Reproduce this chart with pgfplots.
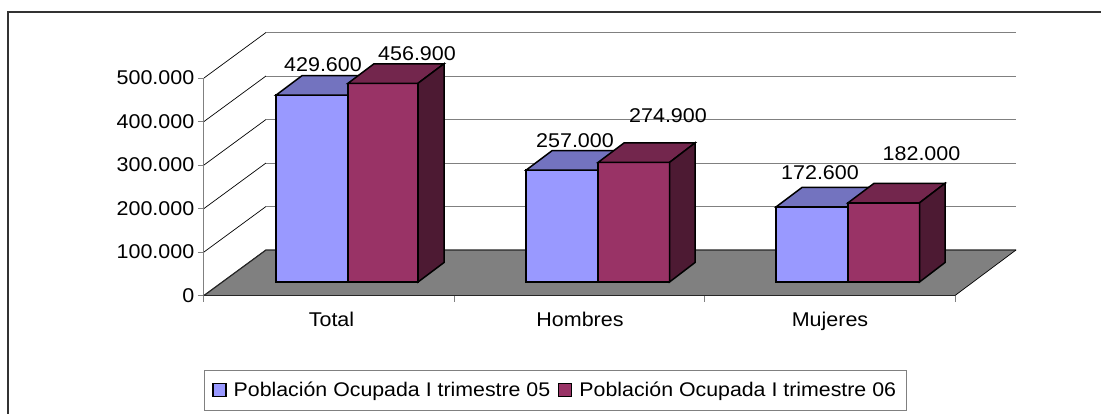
\documentclass[border=0pt]{standalone}
\usepackage{fontspec}
\setmainfont[FakeStretch=1.08]{Liberation Sans}
\usepackage{pgfplots}
\pgfplotsset{compat=1.18}
\definecolor{bf}{HTML}{9999FF}\definecolor{bt}{HTML}{7373BF}
\definecolor{rf}{HTML}{993366}\definecolor{rt}{HTML}{73264D}\definecolor{rs}{HTML}{4D1A33}
\definecolor{gridc}{HTML}{808080}\definecolor{floorc}{HTML}{808080}
\begin{document}
\begin{tikzpicture}[x=1pt,y=1pt]
\path[use as bounding box] (-204,-117.5) rectangle (897,295.5);
\begin{axis}[
  at={(0,0)},anchor=origin,
  scale only axis,width=751pt,height=217.5pt,
  xmin=204,xmax=955,ymin=0,ymax=500000,clip=false,
  axis x line=bottom,axis y line=left,
  axis line style={-,draw=gridc,line width=1pt},
  y axis line style={-},x axis line style={-},
  font=\fontsize{19.9}{22}\selectfont,
  xtick={331.5,580,830},
  xticklabels={Total,Hombres,Mujeres},
  major x tick style={draw=none},
  minor xtick={204,454.3,704.7,955},
  minor tick length=6pt,
  minor x tick style={draw=gridc,line width=1pt},
  ytick={0,100000,200000,300000,400000,500000},
  major tick length=6pt,
  y tick style={draw=gridc,line width=1pt},
  tick align=outside,
  scaled y ticks=false,
  /pgf/number format/.cd,fixed,1000 sep={.},assume math mode=true,
  /pgfplots/.cd,
  y tick label style={inner sep=1pt,xshift=-2.5pt},
  x tick label style={yshift=-7pt},
  legend columns=2,
  legend style={at={(0,-0.342)},anchor=north west,draw=gridc,line width=1pt,
    inner xsep=8pt,inner ysep=10pt,font=\fontsize{19.75}{22}\selectfont,
    /tikz/every odd column/.append style={column sep=5pt},
    /tikz/every even column/.append style={column sep=6pt}},
  legend cell align=left,
]
% walls
\pgfplotsinvokeforeach{0,100000,200000,300000,400000,500000}{
  \addplot[forget plot,mark=none,black,line width=0.7pt] coordinates {(204,#1) (266,{#1+104600})};
  \addplot[forget plot,mark=none,gridc,line width=1pt] coordinates {(266,{#1+104600}) (1016,{#1+104600})};
}
% floor
\addplot[forget plot,mark=none,fill=floorc,draw=none] coordinates {(204,0) (955,0) (1016,104600) (266,104600)} --cycle;
\addplot[forget plot,mark=none,black!85,line width=1.6pt] coordinates {(204,0) (955,0)};
\addplot[forget plot,mark=none,black!85,line width=1.2pt] coordinates {(204,0) (266,104600) (1016,104600)};
\addplot[forget plot,mark=none,black,line width=0.7pt] coordinates {(955,0) (1016,104600)};
% Total 429.600 / 456.900
\addplot[forget plot,mark=none,fill=bf,draw=black,line width=1.5pt] coordinates {(276,31000) (348,31000) (348,460600) (276,460600)} --cycle;
\addplot[forget plot,mark=none,fill=bt,draw=black,line width=1.5pt] coordinates {(276,460600) (348,460600) (374,505400) (302,505400)} --cycle;
\addplot[forget plot,mark=none,fill=rf,draw=black,line width=1.5pt] coordinates {(348,31000) (418,31000) (418,487900) (348,487900)} --cycle;
\addplot[forget plot,mark=none,fill=rt,draw=black,line width=1.5pt] coordinates {(348,487900) (418,487900) (444,532700) (374,532700)} --cycle;
\addplot[forget plot,mark=none,fill=rs,draw=black,line width=1.5pt] coordinates {(418,31000) (444,75800) (444,532700) (418,487900)} --cycle;
% Hombres 257.000 / 274.900
\addplot[forget plot,mark=none,fill=bf,draw=black,line width=1.5pt] coordinates {(526,31000) (598,31000) (598,288000) (526,288000)} --cycle;
\addplot[forget plot,mark=none,fill=bt,draw=black,line width=1.5pt] coordinates {(526,288000) (598,288000) (624,332800) (552,332800)} --cycle;
\addplot[forget plot,mark=none,fill=rf,draw=black,line width=1.5pt] coordinates {(598,31000) (669.5,31000) (669.5,305900) (598,305900)} --cycle;
\addplot[forget plot,mark=none,fill=rt,draw=black,line width=1.5pt] coordinates {(598,305900) (669.5,305900) (695,350700) (624,350700)} --cycle;
\addplot[forget plot,mark=none,fill=rs,draw=black,line width=1.5pt] coordinates {(669.5,31000) (695,75800) (695,350700) (669.5,305900)} --cycle;
% Mujeres 172.600 / 182.000
\addplot[forget plot,mark=none,fill=bf,draw=black,line width=1.5pt] coordinates {(776,31000) (848,31000) (848,203600) (776,203600)} --cycle;
\addplot[forget plot,mark=none,fill=bt,draw=black,line width=1.5pt] coordinates {(776,203600) (848,203600) (874,248400) (802,248400)} --cycle;
\addplot[forget plot,mark=none,fill=rf,draw=black,line width=1.5pt] coordinates {(848,31000) (919.5,31000) (919.5,213000) (848,213000)} --cycle;
\addplot[forget plot,mark=none,fill=rt,draw=black,line width=1.5pt] coordinates {(848,213000) (919.5,213000) (945,257800) (874,257800)} --cycle;
\addplot[forget plot,mark=none,fill=rs,draw=black,line width=1.5pt] coordinates {(919.5,31000) (945,75800) (945,257800) (919.5,213000)} --cycle;
% value labels
\addplot[forget plot,draw=none,mark=none,point meta=explicit symbolic,nodes near coords,
  every node near coord/.append style={anchor=center,inner sep=0pt,text=black}]
  table[meta=label] {
x y label
323 530000 429.600
417 555200 456.900
575 355200 257.000
668 412700 274.900
820 281700 172.600
921.5 325300 182.000
};
\addlegendimage{legend image code/.code={\draw[fill=bf,draw=black,line width=1.2pt] (0pt,-6pt) rectangle (13pt,7pt);}}
\addlegendimage{legend image code/.code={\draw[fill=rf,draw=black,line width=1.2pt] (0pt,-6pt) rectangle (13pt,7pt);}}
\legend{Población Ocupada I trimestre 05,Población Ocupada I trimestre 06}
\end{axis}
\draw[black!80,line width=1.3pt] (-196,-118) -- (-196,283.5) -- (897,283.5);
\end{tikzpicture}
\end{document}
